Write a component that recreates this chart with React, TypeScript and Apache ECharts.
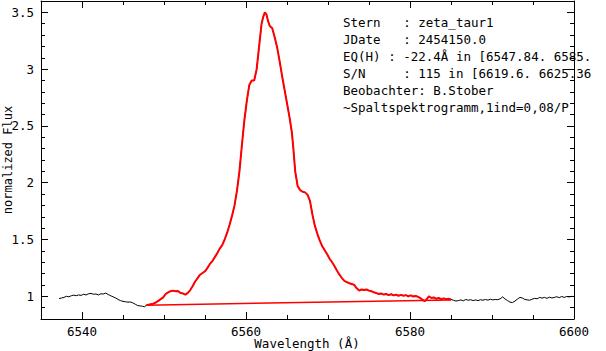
import React, { useEffect, useRef } from "react";
import * as echarts from "echarts";

// Spectrum: wavelength (Å) and normalized flux
const wavelength: number[] = [
  6537.2, 6537.5, 6537.8, 6538.1, 6538.4, 6538.7, 6539.0, 6539.3, 6539.6, 6539.9,
  6540.2, 6540.5, 6540.8, 6541.1, 6541.4, 6541.7, 6542.0, 6542.3, 6542.6, 6542.9,
  6543.2, 6543.5, 6543.8, 6544.1, 6544.4, 6544.7, 6545.0, 6545.3, 6545.6, 6545.9,
  6546.2, 6546.5, 6546.8, 6547.1, 6547.4, 6547.6, 6547.84,
  6548.1, 6548.4, 6548.7, 6549.0, 6549.3, 6549.6, 6549.9, 6550.2, 6550.5, 6550.8,
  6551.1, 6551.4, 6551.7, 6552.0, 6552.3, 6552.6, 6552.9, 6553.2, 6553.5, 6553.8,
  6554.1, 6554.4, 6554.7, 6555.0, 6555.3, 6555.6, 6555.9, 6556.2, 6556.5, 6556.8,
  6557.1, 6557.4, 6557.7, 6558.0, 6558.3, 6558.6, 6558.9, 6559.2, 6559.5, 6559.8,
  6560.1, 6560.4, 6560.7, 6561.0, 6561.3, 6561.6, 6561.9, 6562.1, 6562.3, 6562.5,
  6562.7, 6562.9, 6563.2, 6563.5, 6563.8, 6564.1, 6564.4, 6564.7, 6565.0, 6565.3,
  6565.6, 6565.8, 6566.0, 6566.3, 6566.6, 6566.9, 6567.2, 6567.5, 6567.8, 6568.1,
  6568.4, 6568.7, 6569.0, 6569.3, 6569.6, 6569.9, 6570.2, 6570.5, 6570.8, 6571.1,
  6571.4, 6571.7, 6572.0, 6572.3, 6572.6, 6572.9, 6573.2, 6573.5, 6573.8, 6574.1,
  6574.4, 6574.7, 6575.0, 6575.3, 6575.6, 6575.9, 6576.2, 6576.5, 6576.8, 6577.1,
  6577.4, 6577.7, 6578.0, 6578.3, 6578.6, 6578.9, 6579.2, 6579.5, 6579.8, 6580.1,
  6580.4, 6580.7, 6581.0, 6581.3, 6581.6, 6581.8, 6582.0, 6582.3, 6582.6, 6582.9,
  6583.2, 6583.5, 6583.8, 6584.1, 6584.4, 6584.7, 6585.0,
  6585.3, 6585.6, 6585.9, 6586.2, 6586.5, 6586.8, 6587.1, 6587.4, 6587.7, 6588.0,
  6588.3, 6588.6, 6588.9, 6589.2, 6589.5, 6589.8, 6590.1, 6590.4, 6590.7, 6591.0,
  6591.3, 6591.6, 6591.9, 6592.2, 6592.5, 6592.8, 6593.1, 6593.4, 6593.7, 6594.0,
  6594.3, 6594.6, 6594.9, 6595.2, 6595.5, 6595.8, 6596.1, 6596.4, 6596.7, 6597.0,
  6597.3, 6597.6, 6597.9, 6598.2, 6598.5, 6598.8, 6599.1, 6599.4, 6599.8,
];

const flux: number[] = [
  0.98, 0.985, 0.99, 1.0, 0.995, 1.005, 1.01, 1.005, 1.012, 1.008,
  1.018, 1.012, 1.022, 1.025, 1.018, 1.02, 1.012, 1.022, 1.02, 1.028,
  1.015, 1.005, 0.995, 0.985, 0.972, 0.962, 0.955, 0.952, 0.948, 0.95,
  0.942, 0.93, 0.918, 0.915, 0.912, 0.907, 0.92,
  0.925, 0.93, 0.935, 0.945, 0.96, 0.975, 0.99, 1.02, 1.035, 1.045,
  1.05, 1.045, 1.047, 1.03, 1.025, 1.015, 1.03, 1.055, 1.09, 1.13,
  1.16, 1.19, 1.205, 1.22, 1.25, 1.285, 1.31, 1.345, 1.38, 1.42,
  1.45, 1.5, 1.56, 1.63, 1.71, 1.8, 1.93, 2.1, 2.33, 2.55,
  2.72, 2.86, 2.9, 2.9, 3.0, 3.2, 3.4, 3.46, 3.5, 3.48,
  3.42, 3.38, 3.36, 3.28, 3.19, 3.07, 2.94, 2.82, 2.7, 2.58,
  2.44, 2.28, 2.1, 1.97, 1.935, 1.92, 1.915, 1.895, 1.84, 1.72,
  1.62, 1.55, 1.49, 1.44, 1.405, 1.37, 1.33, 1.3, 1.265, 1.225,
  1.19, 1.16, 1.135, 1.125, 1.115, 1.108, 1.1, 1.07, 1.05, 1.06,
  1.055, 1.06, 1.05, 1.045, 1.035, 1.028, 1.02, 1.025, 1.015, 1.02,
  1.01, 1.018, 1.008, 1.015, 1.005, 1.012, 1.005, 1.01, 1.0, 1.008,
  0.998, 1.003, 0.995, 0.982, 0.965, 0.958, 0.97, 1.0, 0.985, 0.99,
  0.978, 0.985, 0.975, 0.982, 0.975, 0.978, 0.972,
  0.965, 0.958, 0.962, 0.968, 0.96, 0.972, 0.965, 0.97, 0.962, 0.968,
  0.962, 0.97, 0.965, 0.972, 0.966, 0.974, 0.968, 0.972, 0.97, 0.978,
  0.995, 0.975, 0.962, 0.948, 0.945, 0.958, 0.975, 0.99, 0.985, 0.972,
  0.968, 0.965, 0.975, 0.982, 0.978, 0.99, 0.984, 0.99, 0.982, 0.992,
  0.985, 0.99, 0.996, 0.988, 0.998, 0.99, 0.998, 0.995, 1.0,
];

// Integration window for EQ(H) and its fitted continuum
const eqRange: number[] = [6547.84, 6585.0];
const continuumWave: number[] = [6547.84, 6585.0];
const continuumFlux: number[] = [0.922, 0.968];

// Axis tick values
const xMajorTicks: number[] = [6540, 6560, 6580, 6600];
const yMajorTicks: number[] = [1, 1.5, 2, 2.5, 3, 3.5];

const xTitle = "Wavelength (Å)";
const yTitle = "normalized Flux";

const infoLines: string[] = [
  "Stern   : zeta_taur1",
  "JDate   : 2454150.0",
  "EQ(H) : -22.4Å in [6547.84. 6585.",
  "S/N     : 115 in [6619.6. 6625.36",
  "Beobachter: B.Stober",
  "~Spaltspektrogramm,1ind=0,08/P",
];

const FONT = "'DejaVu Sans Mono', monospace";

export default function App() {
  const ref = useRef<HTMLDivElement>(null);

  useEffect(() => {
    if (!ref.current) return;
    const chart = echarts.init(ref.current, undefined, { renderer: "svg" });

    const full = wavelength.map((w, i) => [w, flux[i]]);
    const red = wavelength
      .map((w, i) => [w, flux[i]])
      .filter((p) => p[0] >= eqRange[0] && p[0] <= eqRange[1]);
    const cont = continuumWave.map((w, i) => [w, continuumFlux[i]]);

    const lineStyle = { color: "#000", width: 1 };
    const common = { min: 6535, max: 6600, type: "value" as const, splitLine: { show: false } };
    const yCommon = { min: 0.8, max: 3.6, type: "value" as const, splitLine: { show: false } };

    chart.setOption({
      animation: false,
      backgroundColor: "#fff",
      grid: {
        left: 41,
        right: 32,
        top: 1,
        bottom: 32,
        containLabel: false,
        outerBoundsMode: "none",
      },
      xAxis: [
        {
          ...common,
          position: "bottom",
          interval: 5,
          axisLine: { show: true, onZero: false, lineStyle },
          axisTick: { show: true, inside: true, length: 4, lineStyle },
          axisLabel: {
            show: true,
            margin: 6,
            color: "#000",
            fontFamily: FONT,
            fontSize: 12.5,
            formatter: (v: number) => (xMajorTicks.includes(v) ? String(v) : ""),
          },
        },
        {
          ...common,
          position: "bottom",
          axisLine: { show: false, onZero: false },
          axisTick: { show: true, inside: true, length: 7, lineStyle, customValues: xMajorTicks },
          axisLabel: { show: false },
        },
        {
          ...common,
          position: "top",
          interval: 5,
          axisLine: { show: true, onZero: false, lineStyle },
          axisTick: { show: true, inside: true, length: 4, lineStyle },
          axisLabel: { show: false },
        },
        {
          ...common,
          position: "top",
          axisLine: { show: false, onZero: false },
          axisTick: { show: true, inside: true, length: 7, lineStyle, customValues: xMajorTicks },
          axisLabel: { show: false },
        },
      ],
      yAxis: [
        {
          ...yCommon,
          position: "left",
          interval: 0.1,
          axisLine: { show: true, onZero: false, lineStyle },
          axisTick: { show: true, inside: true, length: 4, lineStyle },
          axisLabel: {
            show: true,
            margin: 7,
            color: "#000",
            fontFamily: FONT,
            fontSize: 12.5,
            formatter: (v: number) => {
              const r = Math.round(v * 10) / 10;
              return yMajorTicks.some((t) => Math.abs(t - r) < 1e-6) ? String(r) : "";
            },
          },
        },
        {
          ...yCommon,
          position: "left",
          axisLine: { show: false, onZero: false },
          axisTick: { show: true, inside: true, length: 7, lineStyle, customValues: yMajorTicks },
          axisLabel: { show: false },
        },
        {
          ...yCommon,
          position: "right",
          interval: 0.1,
          axisLine: { show: true, onZero: false, lineStyle },
          axisTick: { show: true, inside: true, length: 4, lineStyle },
          axisLabel: { show: false },
        },
        {
          ...yCommon,
          position: "right",
          axisLine: { show: false, onZero: false },
          axisTick: { show: true, inside: true, length: 7, lineStyle, customValues: yMajorTicks },
          axisLabel: { show: false },
        },
      ],
      graphic: [
        {
          type: "text",
          left: 343,
          top: 14,
          z: -10,
          style: {
            text: infoLines.join("\n"),
            fill: "#000",
            font: `12.5px ${FONT}`,
            lineHeight: 17,
          },
        },
        {
          type: "text",
          x: 307,
          y: 343,
          style: {
            text: xTitle,
            fill: "#000",
            font: `12.5px ${FONT}`,
            align: "center",
            verticalAlign: "middle",
          },
        },
        {
          type: "text",
          x: 8,
          y: 160,
          rotation: Math.PI / 2,
          style: {
            text: yTitle,
            fill: "#000",
            font: `12px ${FONT}`,
            align: "center",
            verticalAlign: "middle",
          },
        },
      ],
      series: [
        {
          type: "line",
          data: full,
          showSymbol: false,
          symbol: "none",
          lineStyle: { color: "#000", width: 1 },
          z: 2,
        },
        {
          type: "line",
          data: red,
          showSymbol: false,
          symbol: "none",
          lineStyle: { color: "#ff0000", width: 2 },
          z: 3,
        },
        {
          type: "line",
          data: cont,
          showSymbol: false,
          symbol: "none",
          lineStyle: { color: "#ff0000", width: 1.5 },
          z: 3,
        },
      ],
    });

    return () => chart.dispose();
  }, []);

  return (
    <div
      ref={ref}
      style={{ position: "fixed", left: 0, top: 0, width: 606, height: 351, background: "#fff" }}
    />
  );
}
